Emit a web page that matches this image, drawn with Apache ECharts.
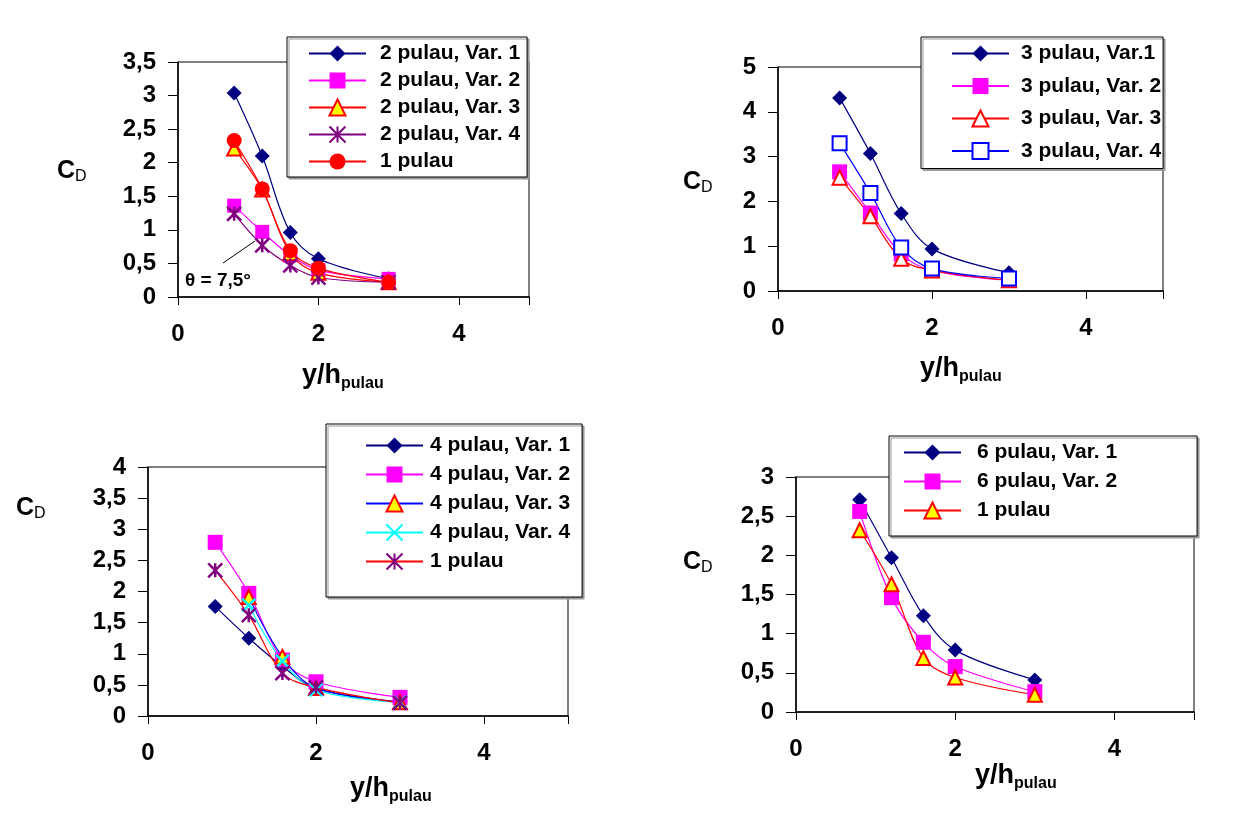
<!DOCTYPE html>
<html>
<head>
<meta charset="utf-8" />
<title>C_D vs y/h pulau</title>
<script src="https://cdn.jsdelivr.net/npm/echarts@6/dist/echarts.min.js"></script>
<style>
body{margin:0;padding:0;background:#fff;}
#chart{width:1251px;height:824px;}
</style>
</head>
<body>
<div id="chart"></div>
<script>
// x positions (y/h pulau), same for every panel
var xVals = [0.8, 1.2, 1.6, 2, 3];

// panel 1 (2 pulau)
var p1Var1 = [3.04, 2.10, 0.96, 0.57, 0.27];
var p1Var2 = [1.36, 0.97, 0.62, 0.40, 0.27];
var p1Var3 = [2.21, 1.60, 0.65, 0.36, 0.22];
var p1Var4 = [1.24, 0.77, 0.47, 0.29, 0.22];
var p1One  = [2.33, 1.61, 0.69, 0.43, 0.22];

// panel 2 (3 pulau)
var p2Var1 = [4.31, 3.07, 1.73, 0.94, 0.41];
var p2Var2 = [2.66, 1.74, 0.83, 0.46, 0.24];
var p2Var3 = [2.53, 1.67, 0.72, 0.46, 0.24];
var p2Var4 = [3.30, 2.19, 0.97, 0.50, 0.28];

// panel 3 (4 pulau)
var p3Var1 = [1.76, 1.25, 0.80, 0.44, 0.23];
var p3Var2 = [2.79, 1.97, 0.90, 0.55, 0.30];
var p3Var3 = [null, 1.91, 0.95, 0.45, 0.22];
var p3Var4 = [null, 1.78, 0.88, 0.42, 0.22];
var p3One  = [2.34, 1.62, 0.69, 0.46, 0.21];

// panel 4 (6 pulau)
var p4Var1 = [2.71, 1.97, 1.23, 0.79, 0.41];
var p4Var2 = [2.56, 1.46, 0.89, 0.58, 0.26];
var p4One  = [2.32, 1.63, 0.69, 0.44, 0.22];

// axis ranges
var xTicks = [0, 2, 4];
var yMax = [3.5, 5, 4, 3];
var yStep = [0.5, 1, 0.5, 0.5];

var NAVY = '#000080', MAG = '#FF00FF', RED = '#FF0000', PURP = '#800080', BLUE = '#0000FF', CYAN = '#00FFFF', YEL = '#FFFF00';
var STAR = 'path://M0,0L10,10M10,0L0,10M5,0L5,10';
var CROSS = 'path://M0,0L10,10M10,0L0,10';

function pts(ys){
    var out = [];
    for (var i = 0; i < xVals.length; i++) {
        if (ys[i] != null) out.push([xVals[i], ys[i]]);
    }
    return out;
}

function mk(name, g, ys, line, sym, size, fill, border, bw){
    return {
        name: name, type: 'line', xAxisIndex: g, yAxisIndex: g,
        data: pts(ys), smooth: 0.35,
        symbol: sym, symbolSize: size,
        lineStyle: {color: line, width: 1.2},
        itemStyle: {color: fill, borderColor: border || fill, borderWidth: bw || 0},
        emphasis: {disabled: true}
    };
}

var grids = [
    {left: 178, top: 62, width: 351, height: 235},
    {left: 778, top: 67, width: 385, height: 224},
    {left: 148, top: 467, width: 420, height: 249},
    {left: 796, top: 477, width: 398, height: 235}
];

var xAxes = [], yAxes = [];
for (var i = 0; i < 4; i++) {
    grids[i].show = true;
    grids[i].borderColor = '#000';
    grids[i].borderWidth = 1;
    xAxes.push({
        gridIndex: i, type: 'value', min: 0, max: 5, interval: 2,
        axisLine: {show: true, lineStyle: {color: '#000', width: 1.5}},
        axisTick: {show: true, length: 8, lineStyle: {color: '#000'}},
        splitLine: {show: false},
        axisLabel: {
            margin: 25, fontSize: 24, fontWeight: 'bold', color: '#000', fontFamily: 'Liberation Sans',
            formatter: function (v) { return xTicks.indexOf(v) >= 0 ? String(v) : ''; }
        }
    });
    yAxes.push({
        gridIndex: i, type: 'value', min: 0, max: yMax[i], interval: yStep[i],
        axisLine: {show: true, lineStyle: {color: '#000', width: 1.5}},
        axisTick: {show: true, length: 10, lineStyle: {color: '#000'}},
        splitLine: {show: false},
        axisLabel: {
            margin: 22, fontSize: 24, fontWeight: 'bold', color: '#000', fontFamily: 'Liberation Sans',
            formatter: function (v) { return String(v).replace('.', ','); }
        }
    });
}

var series = [
    mk('2 pulau, Var. 1', 0, p1Var1, NAVY, 'diamond', 15, NAVY),
    mk('2 pulau, Var. 2', 0, p1Var2, MAG, 'rect', 14, MAG),
    mk('2 pulau, Var. 3', 0, p1Var3, RED, 'triangle', 14, YEL, RED, 2),
    mk('2 pulau, Var. 4', 0, p1Var4, PURP, STAR, 14, 'rgba(0,0,0,0)', PURP, 2.5),
    mk('1 pulau', 0, p1One, RED, 'circle', 15, RED),

    mk('3 pulau, Var.1', 1, p2Var1, NAVY, 'diamond', 15, NAVY),
    mk('3 pulau, Var. 2', 1, p2Var2, MAG, 'rect', 15, MAG),
    mk('3 pulau, Var. 3', 1, p2Var3, RED, 'triangle', 14, '#fff', RED, 2),
    mk('3 pulau, Var. 4', 1, p2Var4, BLUE, 'rect', 14, '#fff', BLUE, 2),

    mk('4 pulau, Var. 1', 2, p3Var1, NAVY, 'diamond', 15, NAVY),
    mk('4 pulau, Var. 2', 2, p3Var2, MAG, 'rect', 15, MAG),
    mk('4 pulau, Var. 3', 2, p3Var3, BLUE, 'triangle', 14, YEL, RED, 2),
    mk('4 pulau, Var. 4', 2, p3Var4, CYAN, CROSS, 13, 'rgba(0,0,0,0)', CYAN, 2.5),
    mk('1 pulau ', 2, p3One, RED, STAR, 14, 'rgba(0,0,0,0)', PURP, 2.5),

    mk('6 pulau, Var. 1', 3, p4Var1, NAVY, 'diamond', 15, NAVY),
    mk('6 pulau, Var. 2', 3, p4Var2, MAG, 'rect', 15, MAG),
    mk('1 pulau  ', 3, p4One, RED, 'triangle', 14, YEL, RED, 2)
];

function leg(left, top, pad, gap, textPad, names){
    return {
        orient: 'vertical', left: left, top: top, padding: pad, itemGap: gap,
        itemWidth: 57, itemHeight: 20,
        backgroundColor: '#fff', borderColor: '#000', borderWidth: 1,
        shadowColor: '#999', shadowOffsetX: 2, shadowOffsetY: 2, shadowBlur: 0,
        lineStyle: {width: 2},
        selectedMode: false,
        textStyle: {fontSize: 21, fontWeight: 'bold', color: '#000', fontFamily: 'Liberation Sans', lineHeight: 20, padding: [0, 0, 0, textPad]},
        formatter: function (n) { return n.trim(); },
        data: names
    };
}

var legends = [
    leg(287, 37, [6, 7, 5, 21], 6, 9, ['2 pulau, Var. 1', '2 pulau, Var. 2', '2 pulau, Var. 3', '2 pulau, Var. 4', '1 pulau']),
    leg(921, 37, [6, 2, 7, 30], 11.5, 7, ['3 pulau, Var.1', '3 pulau, Var. 2', '3 pulau, Var. 3', '3 pulau, Var. 4']),
    leg(326, 424, [11, 12, 25, 39], 8, 2, ['4 pulau, Var. 1', '4 pulau, Var. 2', '4 pulau, Var. 3', '4 pulau, Var. 4', '1 pulau ']),
    leg(889, 436, [6, 80, 15, 14], 8, 11, ['6 pulau, Var. 1', '6 pulau, Var. 2', '1 pulau  '])
];

function txt(x, y, s, size, bold){
    return {
        type: 'text', left: x, top: y - size / 2,
        style: {text: s, fontSize: size, fontWeight: bold ? 'bold' : 'normal', fill: '#000', fontFamily: 'Liberation Sans'}
    };
}

var graphics = [
    // C_D labels
    txt(57, 171, 'C', 25, true), txt(75, 177, 'D', 16, false),
    txt(683, 182, 'C', 25, true), txt(701, 188, 'D', 16, false),
    txt(16, 508, 'C', 25, true), txt(34, 514, 'D', 16, false),
    txt(683, 562, 'C', 25, true), txt(701, 568, 'D', 16, false),
    // y/h pulau labels
    txt(302, 376, 'y/h', 27, true), txt(341, 384, 'pulau', 16, true),
    txt(920, 369, 'y/h', 27, true), txt(959, 377, 'pulau', 16, true),
    txt(350, 789, 'y/h', 27, true), txt(389, 797, 'pulau', 16, true),
    txt(975, 776, 'y/h', 27, true), txt(1014, 784, 'pulau', 16, true),
    // annotation in panel 1
    txt(185, 281, '\u03b8 = 7,5\u00b0', 19, true),
    {type: 'line', shape: {x1: 223, y1: 263, x2: 255, y2: 241}, style: {stroke: '#000', lineWidth: 1}}
];

var myChart = echarts.init(document.getElementById('chart'));
myChart.setOption({
    animation: false,
    backgroundColor: '#fff',
    grid: grids,
    xAxis: xAxes,
    yAxis: yAxes,
    legend: legends,
    series: series,
    graphic: graphics
});
</script>
</body>
</html>
